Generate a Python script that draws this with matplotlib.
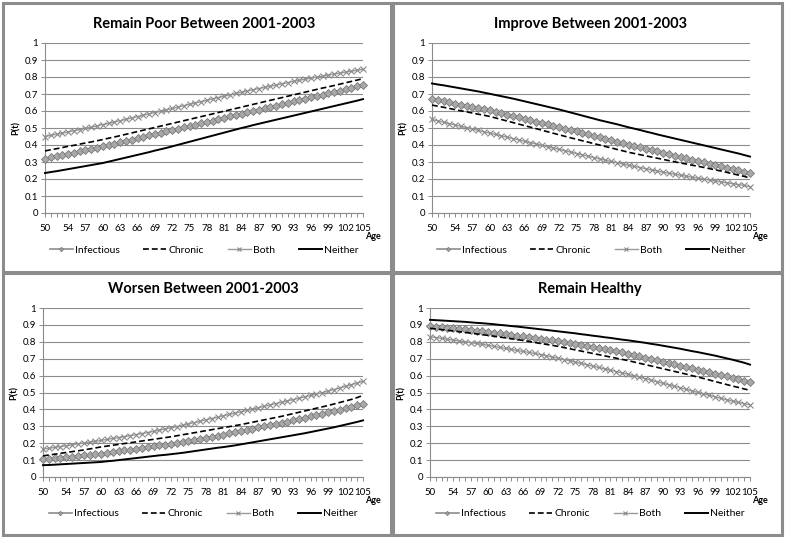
import matplotlib
matplotlib.use("Agg")
import matplotlib.pyplot as plt
from matplotlib.patches import Rectangle

plt.rcParams["font.family"] = ["Lato", "DejaVu Sans"]

AGES = list(range(50, 106))
TICK_AGES = [50, 54, 57, 60, 63, 66, 69, 72, 75, 78, 81, 84, 87, 90, 93, 96, 99, 102, 105]
Y_TICKS = [0, 0.1, 0.2, 0.3, 0.4, 0.5, 0.6, 0.7, 0.8, 0.9, 1.0]
Y_LABELS = ["0", "0.1", "0.2", "0.3", "0.4", "0.5", "0.6", "0.7", "0.8", "0.9", "1"]
SERIES = ["Infectious", "Chronic", "Both", "Neither"]
TITLES = ["Remain Poor Between 2001-2003", "Improve Between 2001-2003",
          "Worsen Between 2001-2003", "Remain Healthy"]

# P(t) by age (ages 50..105)
POOR_INFECTIOUS = [
    0.320, 0.327, 0.334, 0.341, 0.348, 0.355, 0.362, 0.370, 0.377, 0.384,
    0.392, 0.400, 0.408, 0.416, 0.424, 0.432, 0.440, 0.448, 0.456, 0.464,
    0.472, 0.480, 0.488, 0.496, 0.504, 0.512, 0.520, 0.528, 0.536, 0.544,
    0.552, 0.560, 0.568, 0.576, 0.584, 0.592, 0.600, 0.608, 0.616, 0.624,
    0.632, 0.640, 0.648, 0.656, 0.664, 0.672, 0.680, 0.688, 0.696, 0.704,
    0.712, 0.720, 0.728, 0.737, 0.746, 0.755]
POOR_CHRONIC = [
    0.365, 0.372, 0.378, 0.385, 0.392, 0.398, 0.405, 0.412, 0.418, 0.425,
    0.432, 0.440, 0.447, 0.455, 0.463, 0.471, 0.479, 0.487, 0.495, 0.503,
    0.511, 0.519, 0.527, 0.535, 0.543, 0.551, 0.559, 0.567, 0.575, 0.583,
    0.591, 0.599, 0.607, 0.615, 0.623, 0.631, 0.639, 0.647, 0.655, 0.663,
    0.671, 0.679, 0.687, 0.695, 0.703, 0.711, 0.719, 0.727, 0.735, 0.742,
    0.750, 0.758, 0.766, 0.774, 0.782, 0.790]
POOR_BOTH = [
    0.450, 0.457, 0.463, 0.470, 0.477, 0.484, 0.491, 0.498, 0.505, 0.512,
    0.520, 0.527, 0.535, 0.543, 0.551, 0.559, 0.567, 0.575, 0.583, 0.591,
    0.599, 0.607, 0.615, 0.623, 0.631, 0.639, 0.647, 0.655, 0.663, 0.671,
    0.679, 0.687, 0.695, 0.703, 0.711, 0.718, 0.725, 0.732, 0.739, 0.746,
    0.753, 0.760, 0.767, 0.774, 0.781, 0.787, 0.793, 0.799, 0.805, 0.811,
    0.817, 0.823, 0.829, 0.834, 0.840, 0.845]
POOR_NEITHER = [
    0.235, 0.241, 0.246, 0.252, 0.258, 0.264, 0.270, 0.276, 0.282, 0.288,
    0.294, 0.302, 0.310, 0.318, 0.326, 0.334, 0.342, 0.350, 0.358, 0.367,
    0.375, 0.383, 0.392, 0.401, 0.410, 0.419, 0.428, 0.437, 0.446, 0.455,
    0.464, 0.473, 0.482, 0.491, 0.500, 0.508, 0.517, 0.525, 0.533, 0.541,
    0.549, 0.557, 0.565, 0.573, 0.581, 0.589, 0.597, 0.605, 0.613, 0.621,
    0.629, 0.637, 0.645, 0.653, 0.661, 0.670]

IMPROVE_INFECTIOUS = [
    0.672, 0.665, 0.658, 0.651, 0.644, 0.637, 0.630, 0.623, 0.616, 0.610,
    0.603, 0.595, 0.587, 0.579, 0.571, 0.563, 0.555, 0.547, 0.538, 0.529,
    0.521, 0.513, 0.505, 0.497, 0.488, 0.480, 0.471, 0.463, 0.454, 0.446,
    0.437, 0.429, 0.420, 0.411, 0.402, 0.394, 0.386, 0.378, 0.370, 0.362,
    0.354, 0.346, 0.338, 0.330, 0.322, 0.314, 0.307, 0.299, 0.291, 0.283,
    0.275, 0.267, 0.259, 0.251, 0.243, 0.236]
IMPROVE_CHRONIC = [
    0.635, 0.628, 0.622, 0.615, 0.608, 0.601, 0.595, 0.588, 0.581, 0.575,
    0.568, 0.559, 0.550, 0.541, 0.532, 0.523, 0.514, 0.505, 0.496, 0.487,
    0.478, 0.469, 0.460, 0.451, 0.442, 0.434, 0.425, 0.417, 0.408, 0.400,
    0.391, 0.383, 0.374, 0.366, 0.357, 0.350, 0.343, 0.336, 0.329, 0.322,
    0.315, 0.308, 0.301, 0.294, 0.288, 0.281, 0.275, 0.268, 0.261, 0.254,
    0.247, 0.239, 0.231, 0.223, 0.215, 0.206]
IMPROVE_BOTH = [
    0.550, 0.542, 0.534, 0.526, 0.518, 0.510, 0.502, 0.494, 0.486, 0.478,
    0.470, 0.462, 0.454, 0.446, 0.438, 0.430, 0.422, 0.414, 0.406, 0.398,
    0.390, 0.382, 0.374, 0.366, 0.358, 0.350, 0.342, 0.334, 0.326, 0.318,
    0.311, 0.303, 0.296, 0.288, 0.281, 0.274, 0.267, 0.260, 0.253, 0.246,
    0.240, 0.234, 0.228, 0.222, 0.216, 0.210, 0.205, 0.199, 0.194, 0.188,
    0.183, 0.177, 0.172, 0.167, 0.162, 0.155]
IMPROVE_NEITHER = [
    0.762, 0.756, 0.751, 0.745, 0.739, 0.733, 0.727, 0.721, 0.715, 0.708,
    0.701, 0.694, 0.687, 0.680, 0.673, 0.665, 0.657, 0.649, 0.641, 0.633,
    0.625, 0.617, 0.609, 0.600, 0.591, 0.582, 0.573, 0.564, 0.555, 0.546,
    0.538, 0.530, 0.522, 0.513, 0.504, 0.496, 0.488, 0.479, 0.471, 0.462,
    0.454, 0.446, 0.438, 0.430, 0.422, 0.414, 0.406, 0.398, 0.390, 0.382,
    0.374, 0.366, 0.358, 0.350, 0.341, 0.332]

WORSEN_INFECTIOUS = [
    0.105, 0.108, 0.111, 0.114, 0.117, 0.120, 0.124, 0.128, 0.132, 0.135,
    0.139, 0.143, 0.147, 0.152, 0.157, 0.162, 0.167, 0.172, 0.177, 0.182,
    0.187, 0.192, 0.197, 0.203, 0.209, 0.215, 0.221, 0.227, 0.233, 0.239,
    0.245, 0.251, 0.258, 0.265, 0.272, 0.279, 0.286, 0.293, 0.300, 0.307,
    0.314, 0.321, 0.328, 0.336, 0.344, 0.351, 0.359, 0.367, 0.375, 0.383,
    0.391, 0.399, 0.408, 0.417, 0.426, 0.434]
WORSEN_CHRONIC = [
    0.125, 0.130, 0.135, 0.140, 0.145, 0.150, 0.155, 0.160, 0.166, 0.172,
    0.178, 0.183, 0.188, 0.193, 0.198, 0.203, 0.208, 0.213, 0.218, 0.223,
    0.228, 0.233, 0.238, 0.244, 0.250, 0.256, 0.262, 0.268, 0.274, 0.280,
    0.286, 0.292, 0.298, 0.304, 0.310, 0.317, 0.324, 0.331, 0.338, 0.345,
    0.352, 0.359, 0.367, 0.375, 0.383, 0.391, 0.399, 0.407, 0.415, 0.423,
    0.432, 0.441, 0.450, 0.459, 0.470, 0.483]
WORSEN_BOTH = [
    0.165, 0.170, 0.175, 0.180, 0.185, 0.190, 0.196, 0.201, 0.206, 0.211,
    0.217, 0.222, 0.228, 0.233, 0.239, 0.245, 0.251, 0.257, 0.263, 0.270,
    0.277, 0.284, 0.291, 0.298, 0.306, 0.314, 0.322, 0.330, 0.338, 0.346,
    0.354, 0.362, 0.370, 0.378, 0.386, 0.394, 0.402, 0.410, 0.418, 0.426,
    0.434, 0.442, 0.450, 0.458, 0.466, 0.475, 0.483, 0.491, 0.499, 0.508,
    0.517, 0.527, 0.537, 0.546, 0.556, 0.566]
WORSEN_NEITHER = [
    0.070, 0.071, 0.073, 0.075, 0.077, 0.079, 0.081, 0.083, 0.085, 0.087,
    0.089, 0.093, 0.096, 0.100, 0.104, 0.108, 0.112, 0.116, 0.120, 0.124,
    0.128, 0.131, 0.135, 0.139, 0.143, 0.148, 0.153, 0.158, 0.163, 0.168,
    0.173, 0.177, 0.182, 0.187, 0.193, 0.199, 0.205, 0.211, 0.217, 0.223,
    0.229, 0.235, 0.241, 0.247, 0.253, 0.259, 0.266, 0.273, 0.280, 0.287,
    0.294, 0.302, 0.310, 0.318, 0.326, 0.335]

HEALTHY_INFECTIOUS = [
    0.893, 0.890, 0.887, 0.884, 0.880, 0.877, 0.873, 0.869, 0.865, 0.862,
    0.858, 0.854, 0.850, 0.846, 0.842, 0.837, 0.833, 0.828, 0.823, 0.818,
    0.813, 0.808, 0.803, 0.797, 0.791, 0.785, 0.779, 0.773, 0.767, 0.761,
    0.755, 0.749, 0.743, 0.737, 0.730, 0.723, 0.715, 0.707, 0.699, 0.691,
    0.683, 0.675, 0.667, 0.659, 0.651, 0.643, 0.635, 0.627, 0.619, 0.611,
    0.603, 0.595, 0.587, 0.579, 0.571, 0.562]
HEALTHY_CHRONIC = [
    0.880, 0.876, 0.872, 0.868, 0.864, 0.860, 0.856, 0.851, 0.847, 0.842,
    0.838, 0.833, 0.828, 0.823, 0.818, 0.813, 0.808, 0.802, 0.796, 0.790,
    0.785, 0.779, 0.773, 0.766, 0.759, 0.752, 0.745, 0.738, 0.731, 0.724,
    0.717, 0.710, 0.703, 0.696, 0.689, 0.681, 0.673, 0.665, 0.657, 0.649,
    0.641, 0.633, 0.625, 0.617, 0.609, 0.600, 0.592, 0.583, 0.574, 0.565,
    0.556, 0.547, 0.538, 0.530, 0.521, 0.513]
HEALTHY_BOTH = [
    0.830, 0.825, 0.820, 0.815, 0.810, 0.805, 0.800, 0.795, 0.790, 0.785,
    0.779, 0.773, 0.767, 0.761, 0.755, 0.749, 0.743, 0.737, 0.731, 0.724,
    0.717, 0.710, 0.703, 0.695, 0.688, 0.680, 0.672, 0.664, 0.656, 0.648,
    0.640, 0.632, 0.624, 0.616, 0.608, 0.600, 0.591, 0.582, 0.573, 0.564,
    0.555, 0.546, 0.537, 0.528, 0.519, 0.510, 0.501, 0.492, 0.483, 0.474,
    0.465, 0.457, 0.449, 0.441, 0.434, 0.427]
HEALTHY_NEITHER = [
    0.930, 0.928, 0.926, 0.924, 0.922, 0.920, 0.918, 0.915, 0.912, 0.910,
    0.907, 0.904, 0.900, 0.897, 0.893, 0.890, 0.886, 0.882, 0.878, 0.874,
    0.870, 0.866, 0.862, 0.858, 0.854, 0.850, 0.845, 0.841, 0.836, 0.832,
    0.827, 0.823, 0.818, 0.813, 0.809, 0.804, 0.799, 0.794, 0.788, 0.783,
    0.777, 0.771, 0.765, 0.759, 0.752, 0.745, 0.739, 0.732, 0.725, 0.718,
    0.710, 0.702, 0.694, 0.685, 0.676, 0.665]

PANELS = [
    [POOR_INFECTIOUS, POOR_CHRONIC, POOR_BOTH, POOR_NEITHER],
    [IMPROVE_INFECTIOUS, IMPROVE_CHRONIC, IMPROVE_BOTH, IMPROVE_NEITHER],
    [WORSEN_INFECTIOUS, WORSEN_CHRONIC, WORSEN_BOTH, WORSEN_NEITHER],
    [HEALTHY_INFECTIOUS, HEALTHY_CHRONIC, HEALTHY_BOTH, HEALTHY_NEITHER],
]

STYLE = {
    "Infectious": dict(color="#8c8c8c", linestyle="-", linewidth=1.2, marker="D", markersize=3.6,
                       markerfacecolor="#a8a8a8", markeredgecolor="#7a7a7a", markeredgewidth=0.6),
    "Chronic": dict(color="black", linestyle=(0, (3.5, 1.8)), linewidth=1.2),
    "Both": dict(color="#9a9a9a", linestyle="-", linewidth=1.0, marker="x", markersize=4.2,
                 markeredgecolor="#8a8a8a", markeredgewidth=0.8),
    "Neither": dict(color="black", linestyle="-", linewidth=1.4),
}

W, H = 785, 539
GRAY = "#8c8c8c"

# panel frames (pixels: x0, y0 from top, x1, y1)
FRAMES = [(3, 3, 391, 272), (393, 3, 782, 272), (3, 273, 391, 535), (393, 273, 782, 535)]
# axes boxes in pixels (left, top, right, bottom)
AXES_BOX = [(45, 43, 363, 213), (432, 43, 750, 213), (43, 308, 363, 477), (430, 308, 750, 477)]

fig = plt.figure(figsize=(W / 100, H / 100), dpi=100)
fig.patch.set_facecolor("white")

for x0, y0, x1, y1 in FRAMES:
    fig.patches.append(Rectangle((x0 / W, 1 - y1 / H), (x1 - x0) / W, (y1 - y0) / H,
                                 transform=fig.transFigure, fill=False,
                                 edgecolor=GRAY, linewidth=2.2))

for i, (l, t, r, b) in enumerate(AXES_BOX):
    ax = fig.add_axes([l / W, 1 - b / H, (r - l) / W, (b - t) / H])
    for name, vals in zip(SERIES, PANELS[i]):
        ax.plot(AGES, vals, label=name, clip_on=False, zorder=3, **STYLE[name])

    ax.set_xlim(50, 105)
    ax.set_ylim(0, 1)
    ax.set_yticks(Y_TICKS)
    ax.set_yticklabels(Y_LABELS)
    ax.set_xticks(TICK_AGES)
    ax.set_xticklabels([str(a) for a in TICK_AGES])
    ax.set_xticks(AGES, minor=True)
    ax.tick_params(axis="both", which="major", labelsize=7, color=GRAY, length=3, width=0.7, pad=2)
    ax.tick_params(axis="x", which="minor", color=GRAY, length=3, width=0.7)
    ax.tick_params(axis="x", pad=5)
    ax.grid(axis="y", color=GRAY, linewidth=0.8)
    ax.set_axisbelow(True)
    for side in ("top", "right"):
        ax.spines[side].set_visible(False)
    for side in ("left", "bottom"):
        ax.spines[side].set_color(GRAY)
        ax.spines[side].set_linewidth(0.8)

    ax.set_ylabel("P(t)", fontsize=6.5, fontweight="bold", labelpad=3)
    ax.set_title(TITLES[i], fontsize=10.5, fontweight="bold", pad=11)
    ax.text(1.03, -0.14, "Age", transform=ax.transAxes, fontsize=6.5, fontweight="bold",
            ha="center", va="center")
    ax.legend(loc="upper center", bbox_to_anchor=(0.5, -0.165), ncol=4, frameon=False,
              fontsize=7.5, handlelength=2.2, handletextpad=0.2, columnspacing=2.3,
              markerscale=0.6, borderaxespad=0)

fig.savefig("out.png", dpi=100, facecolor="white")
